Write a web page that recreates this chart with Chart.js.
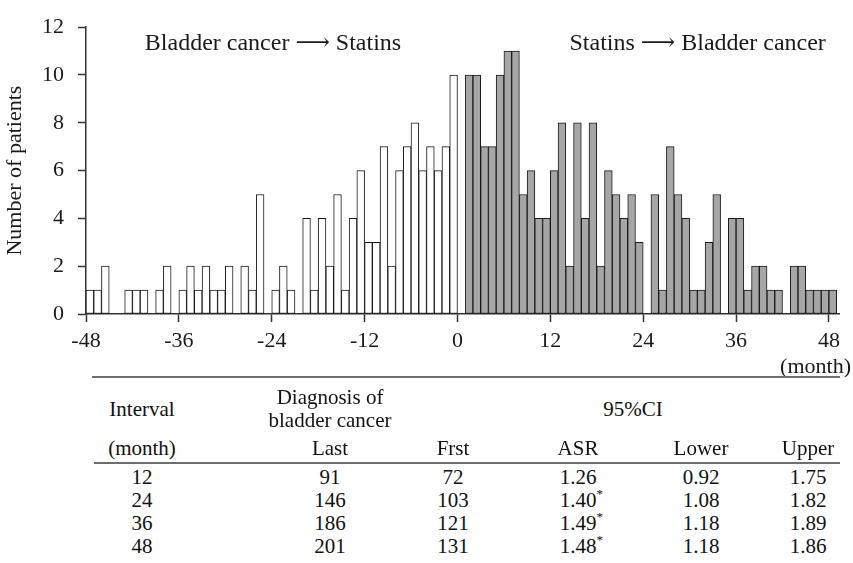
<!DOCTYPE html>
<html>
<head>
<meta charset="utf-8">
<script src="https://cdn.jsdelivr.net/npm/chart.js@4.4.1/dist/chart.umd.min.js"></script>
<style>
  body { margin: 0; background: #fff; }
  #wrap { position: relative; width: 853px; height: 563px; font-family: "Liberation Serif", "Times New Roman", serif; color: #111; }
  #box { position: absolute; left: 0; top: 0; width: 853px; height: 385px; }
  .cell { position: absolute; white-space: nowrap; font-size: 21px; line-height: 23px; transform: translate(-50%, -50%); }
  .star { position: absolute; font-size: 13px; line-height: 13px; top: -2px; left: 100%; }
  .rule { position: absolute; height: 2px; background: #6e6e6e; }
</style>
</head>
<body>
<div id="wrap">
  <div id="box"><canvas id="chart"></canvas></div>
</div>
<script>
// DATA

// months before statins (bladder cancer diagnosed first)
const beforeMonths = [-48,-47,-46,-45,-44,-43,-42,-41,-40,-39,-38,-37,
  -36,-35,-34,-33,-32,-31,-30,-29,-28,-27,-26,-25,
  -24,-23,-22,-21,-20,-19,-18,-17,-16,-15,-14,-13,
  -12,-11,-10,-9,-8,-7,-6,-5,-4,-3,-2,-1];
const beforeCounts = [1,1,2,0,0,1,1,1,0,1,2,0,
  1,2,1,2,1,1,2,0,2,1,5,0,
  1,2,1,0,4,1,4,2,5,1,4,6,
  3,3,7,2,6,7,8,6,7,6,7,10];

// months after statins (statins first)
const afterMonths = [1,2,3,4,5,6,7,8,9,10,11,12,
  13,14,15,16,17,18,19,20,21,22,23,24,
  25,26,27,28,29,30,31,32,33,34,35,36,
  37,38,39,40,41,42,43,44,45,46,47,48];
const afterCounts = [10,10,7,7,10,11,11,5,6,4,4,6,
  8,2,8,4,8,2,6,5,4,5,3,0,
  5,1,7,5,4,1,1,3,5,0,4,4,
  1,2,2,1,1,0,2,2,1,1,1,1];

const xTickValues = [-48,-36,-24,-12,0,12,24,36,48];
const leftNote = 'Bladder cancer \u27F6 Statins';
const rightNote = 'Statins \u27F6 Bladder cancer';

// table
const intervals = ['12','24','36','48'];
const lastCounts = ['91','146','186','201'];
const firstCounts = ['72','103','121','131'];
const asr = ['1.26','1.40','1.49','1.48'];
const asrStar = [false,true,true,true];
const ciLower = ['0.92','1.08','1.18','1.18'];
const ciUpper = ['1.75','1.82','1.89','1.86'];

// CHART

const serif = '"Liberation Serif", "Times New Roman", serif';
const ink = '#1a1a1a';

const notesPlugin = {
  id: 'notes',
  afterDraw(chart) {
    const { ctx, scales: { x, y } } = chart;
    ctx.save();
    ctx.font = '24px "Liberation Serif", "DejaVu Serif", "DejaVu Sans", serif';
    ctx.fillStyle = ink;
    ctx.textBaseline = 'middle';
    ctx.textAlign = 'left';
    ctx.fillText(leftNote, x.getPixelForValue(-40.4), y.getPixelForValue(11.3));
    ctx.textAlign = 'right';
    ctx.fillText(rightNote, x.getPixelForValue(47.6), y.getPixelForValue(11.3));
    ctx.font = '22px ' + serif;
    ctx.fillText('(month)', chart.width - 2, 367);
    ctx.restore();
  }
};

const axisGrid = {
  display: true,
  drawOnChartArea: false,
  drawTicks: true,
  tickLength: 8,
  tickWidth: 1.5,
  offset: false,
  color: '#333'
};

new Chart(document.getElementById('chart'), {
  type: 'bar',
  data: {
    datasets: [
      {
        label: 'Bladder cancer first',
        data: beforeMonths.map((m, i) => ({ x: m + 0.5, y: beforeCounts[i] })),
        backgroundColor: '#ffffff',
        borderColor: ink,
        borderWidth: 1,
        borderSkipped: false
      },
      {
        label: 'Statins first',
        data: afterMonths.map((m, i) => ({ x: m + 0.5, y: afterCounts[i] })),
        backgroundColor: '#a6a6a6',
        borderColor: ink,
        borderWidth: 1,
        borderSkipped: false
      }
    ]
  },
  options: {
    responsive: true,
    maintainAspectRatio: false,
    animation: false,
    grouped: false,
    barPercentage: 1,
    categoryPercentage: 1,
    layout: { padding: { top: 24, right: 14, left: 0, bottom: 0 } },
    plugins: { legend: { display: false }, tooltip: { enabled: false } },
    scales: {
      x: {
        type: 'linear',
        offset: false,
        min: -48,
        max: 49.3,
        afterBuildTicks: (s) => { s.ticks = xTickValues.map(v => ({ value: v })); },
        afterFit: (s) => { s.height = 71; },
        grid: axisGrid,
        border: { display: true, color: '#333', width: 1.5 },
        ticks: { font: { family: serif, size: 22 }, color: ink, padding: 6, maxRotation: 0, autoSkip: false }
      },
      y: {
        min: 0,
        max: 12,
        afterFit: (s) => { s.width = 86; },
        grid: axisGrid,
        border: { display: true, color: '#333', width: 1.5 },
        ticks: { stepSize: 2, font: { family: serif, size: 22 }, color: ink, padding: 14 },
        title: { display: true, text: 'Number of patients', font: { family: serif, size: 22 }, color: ink, padding: { top: 2, bottom: 4 } }
      }
    }
  },
  plugins: [notesPlugin]
});

// TABLE

const wrap = document.getElementById('wrap');
const colX = [142, 330, 453, 578, 701, 808];

function addCell(text, x, y, star) {
  const d = document.createElement('div');
  d.className = 'cell';
  d.style.left = x + 'px';
  d.style.top = y + 'px';
  d.textContent = text;
  if (star) {
    const s = document.createElement('span');
    s.className = 'star';
    s.textContent = '*';
    d.appendChild(s);
  }
  wrap.appendChild(d);
}

function addRule(x1, x2, y) {
  const r = document.createElement('div');
  r.className = 'rule';
  r.style.left = x1 + 'px';
  r.style.width = (x2 - x1) + 'px';
  r.style.top = y + 'px';
  wrap.appendChild(r);
}

addRule(92, 840, 376);
addCell('Interval', colX[0], 409);
addCell('Diagnosis of', colX[1], 397);
addCell('bladder cancer', colX[1], 420);
addCell('95%CI', 633, 409);
['(month)', 'Last', 'Frst', 'ASR', 'Lower', 'Upper'].forEach((t, i) => addCell(t, colX[i], 448));
addRule(94, 840, 462);

intervals.forEach((iv, r) => {
  const y = 477 + r * 23;
  addCell(iv, colX[0], y);
  addCell(lastCounts[r], colX[1], y);
  addCell(firstCounts[r], colX[2], y);
  addCell(asr[r], colX[3], y, asrStar[r]);
  addCell(ciLower[r], colX[4], y);
  addCell(ciUpper[r], colX[5], y);
});
</script>
</body>
</html>
